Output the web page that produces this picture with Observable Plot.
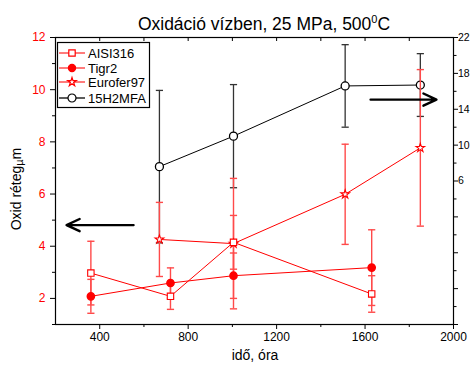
<!DOCTYPE html>
<html><head><meta charset="utf-8">
<script src="https://cdn.jsdelivr.net/npm/d3@7"></script>
<script src="https://cdn.jsdelivr.net/npm/@observablehq/plot@0.6"></script>
<style>
body{margin:0;background:#fff;}
svg{font-family:"Liberation Sans",Arial,sans-serif;}
</style>
</head><body><div id="chart"></div>
<script>
// ---- data ----
const seriesNames = ["AISI316", "Tigr2", "Eurofer97", "15H2MFA"];
const xAISI = [360, 720, 1005, 1630];
const yAISI = [2.97, 2.08, 4.15, 2.17];
const eAISI = [1.22, 0.50, 1.03, 0.70];
const xTigr = [360, 720, 1005, 1630];
const yTigr = [2.08, 2.59, 2.87, 3.18];
const eTigr = [0.65, 0.58, 0.87, 1.45];
const xEuro = [670, 1005, 1510, 1850];
const yEuro = [4.26, 4.10, 5.99, 7.77];
const eEuro = [1.42, 2.50, 1.92, 3.00];
// 15H2MFA is read on the right axis
const xH = [670, 1005, 1510, 1850];
const yH = [7.6, 11.0, 16.6, 16.7];
const eH = [8.5, 5.75, 4.6, 3.5];
const xDomain = [200, 2000];
const yLeftDomain = [1, 12];
const yRightDomain = [-10, 22];
const xMajorTicks = [400, 800, 1200, 1600, 2000];
const xMinorTicks = [600, 1000, 1400, 1800];
const yLeftMajor = [2, 4, 6, 8, 10, 12];
const yLeftMinor = [1, 3, 5, 7, 9, 11];
const yRightMajor = [22, 18, 14, 10, 6, 2, -2, -6, -10];
const yRightMinor = [20, 16, 12, 8, 4, 0, -4, -8];
const yRightLabeled = [22, 18, 14, 10, 6];
// annotation arrows (data units of left axis)
const arrowX1 = [553, 1625];
const arrowX2 = [250, 1923];
const arrowY = [4.81, 9.62];

const r2l = v => yLeftDomain[0] + (v - yRightDomain[0]) * (yLeftDomain[1] - yLeftDomain[0]) / (yRightDomain[1] - yRightDomain[0]);
const l2r = v => yRightDomain[0] + (v - yLeftDomain[0]) * (yRightDomain[1] - yRightDomain[0]) / (yLeftDomain[1] - yLeftDomain[0]);

const rows = (xs, ys, es, conv = v => v) => xs.map((x, i) => ({x, y: conv(ys[i]), lo: conv(ys[i] - es[i]), hi: conv(ys[i] + es[i])}));
const aisi = rows(xAISI, yAISI, eAISI);
const tigr = rows(xTigr, yTigr, eTigr);
const euro = rows(xEuro, yEuro, eEuro);
const h15 = rows(xH, yH, eH, r2l);
const arrows = arrowX1.map((x1, i) => ({x1, x2: arrowX2[i], y: arrowY[i]}));

const cap = {draw(ctx) { ctx.moveTo(-3.6, 0); ctx.lineTo(3.6, 0); }};
const RED = "#ff0000", BAR = "#ff4a4a";

function errMarks(data, color, w) {
  return [
    Plot.ruleX(data, {x: "x", y1: "lo", y2: "hi", stroke: color, strokeWidth: w}),
    Plot.dot(data, {x: "x", y: "lo", symbol: cap, fill: "none", stroke: color, strokeWidth: w}),
    Plot.dot(data, {x: "x", y: "hi", symbol: cap, fill: "none", stroke: color, strokeWidth: w})
  ];
}
const fmt = d3.format("d");

const chart = Plot.plot({
  width: 470, height: 365,
  marginLeft: 55, marginRight: 17, marginTop: 37, marginBottom: 41,
  x: {domain: xDomain, label: null},
  y: {domain: yLeftDomain, label: null},
  style: {fontFamily: "'Liberation Sans', Arial, sans-serif", fontSize: "12px", background: "white", color: "black"},
  marks: [
    ...errMarks(h15, "#333", 1.3),
    Plot.line(h15, {x: "x", y: "y", stroke: "black", strokeWidth: 1}),
    Plot.dot(h15, {x: "x", y: "y", r: 4, fill: "white", stroke: "black", strokeWidth: 1.3}),
    ...errMarks(euro, BAR, 1.4),
    ...errMarks(aisi, BAR, 1.4),
    ...errMarks(tigr, BAR, 1.4),
    Plot.line(euro, {x: "x", y: "y", stroke: RED, strokeWidth: 1}),
    Plot.line(aisi, {x: "x", y: "y", stroke: RED, strokeWidth: 1}),
    Plot.line(tigr, {x: "x", y: "y", stroke: RED, strokeWidth: 1}),
    Plot.dot(euro, {x: "x", y: "y", symbol: "star", r: 2.7, fill: "white", stroke: RED, strokeWidth: 1.1}),
    Plot.dot(aisi, {x: "x", y: "y", symbol: "square", r: 3.6, fill: "white", stroke: RED, strokeWidth: 1.1}),
    Plot.dot(tigr, {x: "x", y: "y", symbol: "circle", r: 3.6, fill: RED, stroke: RED}),
    Plot.arrow(arrows, {x1: "x1", x2: "x2", y1: "y", y2: "y", stroke: "black", strokeWidth: 2.4, headLength: 9, headAngle: 50}),
    Plot.frame({stroke: "black", strokeWidth: 1.2}),
    Plot.axisX({ticks: xMajorTicks, tickSize: 5, tickPadding: 3, tickFormat: fmt, label: null}),
    Plot.axisX({ticks: xMinorTicks, tickSize: 3, tickFormat: () => "", label: null}),
    Plot.axisX({anchor: "top", ticks: xMajorTicks.concat(xMinorTicks), tickSize: -3, tickFormat: () => "", label: null}),
    Plot.axisY({ticks: yLeftMajor, tickSize: 5, tickFormat: () => "", label: null}),
    Plot.axisY({ticks: yLeftMajor, tickSize: 0, tickPadding: 10, tickFormat: fmt, color: RED, label: null}),
    Plot.axisY({ticks: yLeftMinor, tickSize: 3, tickFormat: () => "", label: null}),
    Plot.axisY({anchor: "right", ticks: yRightMajor.map(r2l), tickSize: 4, tickFormat: () => "", label: null}),
    Plot.axisY({anchor: "right", ticks: yRightMajor.map(r2l), tickSize: 0, tickPadding: 4.5, fontSize: 10.5,
      tickFormat: d => { const v = Math.round(l2r(d)); return yRightLabeled.includes(v) ? String(v) : ""; }, label: null}),
    Plot.axisY({anchor: "right", ticks: yRightMinor.map(r2l), tickSize: 2.5, tickFormat: () => "", label: null})
  ]
});
document.getElementById("chart").appendChild(chart);

// ---- title, axis titles, legend ----
const svg = d3.select(chart);
const title = svg.append("text").attr("x", 264).attr("y", 30).attr("text-anchor", "middle")
  .style("font-size", "17.5px").attr("fill", "black");
title.append("tspan").text("Oxidáció vízben, 25 MPa, 500");
title.append("tspan").attr("dy", -7).style("font-size", "11px").text("0");
title.append("tspan").attr("dy", 7).text("C");

svg.append("text").attr("x", 255).attr("y", 360).attr("text-anchor", "middle")
  .style("font-size", "14px").attr("fill", "black").text("idő, óra");

const yl = svg.append("text").attr("transform", "translate(21,189) rotate(-90)").attr("text-anchor", "middle")
  .style("font-size", "14px").attr("fill", "black");
yl.append("tspan").text("Oxid réteg");
yl.append("tspan").attr("dy", 2).style("font-size", "11px").text("µ");
yl.append("tspan").attr("dy", -2).text("m");

const lg = svg.append("g").attr("text-anchor", "start");
lg.append("rect").attr("x", 57.5).attr("y", 42.5).attr("width", 92).attr("height", 65)
  .attr("fill", "white").attr("stroke", "black").attr("stroke-width", 1.2);
const legendY = [53, 68, 82, 98];
const legendColors = ["#ff5a5a", "#ff5a5a", "#ff5a5a", "#333"];
const legendR = [3.6, 3.6, 2.7, 4];
seriesNames.forEach((name, i) => {
  const y = legendY[i];
  lg.append("line").attr("x1", 59).attr("x2", 85).attr("y1", y).attr("y2", y)
    .attr("stroke", legendColors[i]).attr("stroke-width", 1.6);
  const sym = [d3.symbolSquare, d3.symbolCircle, d3.symbolStar, d3.symbolCircle][i];
  const size = Math.PI * legendR[i] ** 2;
  lg.append("path").attr("d", d3.symbol(sym, size)()).attr("transform", `translate(72,${y})`)
    .attr("fill", i === 1 ? RED : "white").attr("stroke", i === 3 ? "black" : RED).attr("stroke-width", 1.2);
  lg.append("text").attr("x", 88).attr("y", y + 4.5).attr("text-anchor", "start")
    .style("font-size", "13px").attr("fill", "black").text(name);
});
</script>
</body></html>
